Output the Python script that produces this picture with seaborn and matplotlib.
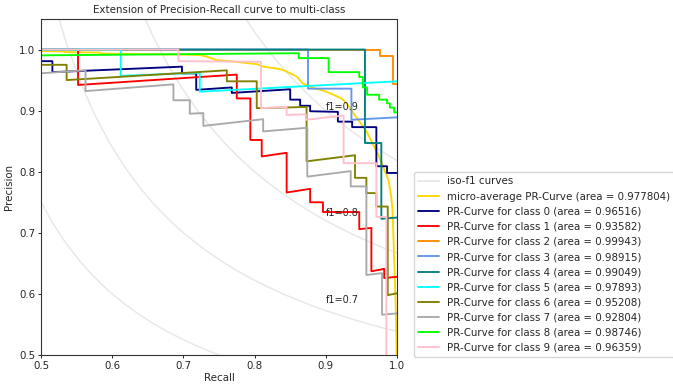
import numpy as np
import matplotlib
matplotlib.use("Agg")
import matplotlib.pyplot as plt
import seaborn as sns
from matplotlib.lines import Line2D

# ---------------- data ----------------
f_scores = [0.6, 0.7, 0.8, 0.9]

micro_recall = [0.45, 0.5, 0.5337, 0.5337, 0.5829, 0.5843, 0.611, 0.6976, 0.7233, 0.7327, 0.7468,
                0.7654, 0.7889, 0.8029, 0.8122, 0.8357, 0.8451, 0.8591, 0.868, 0.8824, 0.8965,
                0.9105, 0.9223, 0.9294, 0.934, 0.9386, 0.9456, 0.9527, 0.9574, 0.9645, 0.9691,
                0.9737, 0.9785, 0.9831, 0.9878, 0.9916, 0.9937, 0.9951, 0.9965, 0.9979, 0.9993, 1.0]
micro_precision = [0.998, 0.9975, 0.9967, 0.9959, 0.9951, 0.9934, 0.993, 0.9918, 0.991, 0.9885, 0.9828,
                   0.9808, 0.9779, 0.9762, 0.9721, 0.968, 0.9639, 0.9557, 0.9443, 0.9369, 0.9328,
                   0.9262, 0.9197, 0.9115, 0.9041, 0.8959, 0.8852, 0.873, 0.8656, 0.8492, 0.8385,
                   0.8279, 0.8143, 0.8, 0.7869, 0.7623, 0.7377, 0.6885, 0.6393, 0.5902, 0.5197, 0.10]
micro_area = "0.977804"

recall_0 = [0.48, 0.516, 0.516, 0.698, 0.698, 0.718, 0.718, 0.768, 0.768, 0.850, 0.850, 0.864, 0.864,
            0.878, 0.878, 0.917, 0.917, 0.937, 0.937, 0.971, 0.971, 0.986, 0.986, 1.0]
precision_0 = [0.981, 0.981, 0.963, 0.972, 0.961, 0.961, 0.934, 0.938, 0.929, 0.935, 0.918, 0.918, 0.908,
               0.908, 0.899, 0.898, 0.882, 0.882, 0.873, 0.873, 0.809, 0.809, 0.798, 0.798]

recall_1 = [0.45, 0.552, 0.552, 0.775, 0.775, 0.794, 0.794, 0.810, 0.810, 0.845, 0.845, 0.878, 0.878,
            0.896, 0.896, 0.947, 0.947, 0.964, 0.964, 0.982, 0.982, 1.0]
precision_1 = [1.0, 1.0, 0.942, 0.959, 0.920, 0.920, 0.852, 0.852, 0.825, 0.831, 0.766, 0.772, 0.750,
               0.750, 0.734, 0.734, 0.706, 0.708, 0.637, 0.641, 0.626, 0.628]

recall_2 = [0.45, 0.976, 0.976, 0.994, 0.994, 1.0]
precision_2 = [1.0, 1.0, 0.989, 0.989, 0.943, 0.943]

recall_3 = [0.45, 0.875, 0.875, 0.936, 0.936, 1.0]
precision_3 = [1.0, 1.0, 0.936, 0.936, 0.885, 0.889]

recall_4 = [0.45, 0.955, 0.955, 0.978, 0.978, 1.0]
precision_4 = [1.0, 1.0, 0.847, 0.847, 0.723, 0.725]

recall_5 = [0.45, 0.612, 0.612, 0.723, 0.723, 1.0]
precision_5 = [1.0, 1.0, 0.957, 0.962, 0.931, 0.948]

recall_6 = [0.45, 0.536, 0.536, 0.761, 0.761, 0.803, 0.803, 0.873, 0.873, 0.941, 0.941, 0.957, 0.957,
            0.971, 0.971, 0.987, 0.987, 1.0]
precision_6 = [0.975, 0.975, 0.950, 0.966, 0.948, 0.948, 0.904, 0.906, 0.817, 0.827, 0.790, 0.790, 0.765,
               0.765, 0.743, 0.743, 0.598, 0.601]

recall_7 = [0.46, 0.5625, 0.5625, 0.686, 0.686, 0.709, 0.709, 0.728, 0.728, 0.812, 0.812, 0.874, 0.874,
            0.935, 0.935, 0.957, 0.957, 0.979, 0.979, 1.0]
precision_7 = [0.958, 0.966, 0.932, 0.943, 0.917, 0.917, 0.895, 0.896, 0.875, 0.886, 0.866, 0.872, 0.792,
               0.801, 0.776, 0.776, 0.631, 0.634, 0.566, 0.568]

recall_8 = [0.45, 0.862, 0.862, 0.904, 0.904, 0.947, 0.947, 0.952, 0.952, 0.958, 0.958, 0.975, 0.975,
            0.986, 0.986, 0.990, 0.990, 0.996, 0.996, 1.0]
precision_8 = [0.990, 0.994, 0.986, 0.986, 0.963, 0.963, 0.955, 0.955, 0.938, 0.938, 0.926, 0.926, 0.918,
               0.918, 0.912, 0.912, 0.905, 0.905, 0.897, 0.897]

recall_9 = [0.45, 0.693, 0.693, 0.809, 0.809, 0.845, 0.845, 0.872, 0.872, 0.925, 0.925, 0.971, 0.971,
            0.985, 0.985]
precision_9 = [1.0, 1.0, 0.981, 0.980, 0.904, 0.906, 0.893, 0.894, 0.885, 0.892, 0.814, 0.814, 0.726,
               0.726, 0.40]

class_areas = ["0.96516", "0.93582", "0.99943", "0.98915", "0.99049",
               "0.97893", "0.95208", "0.92804", "0.98746", "0.96359"]
class_colors = ["navy", "red", "darkorange", "cornflowerblue", "teal",
                "aqua", "olive", "darkgray", "lime", "pink"]
class_recalls = [recall_0, recall_1, recall_2, recall_3, recall_4,
                 recall_5, recall_6, recall_7, recall_8, recall_9]
class_precisions = [precision_0, precision_1, precision_2, precision_3, precision_4,
                    precision_5, precision_6, precision_7, precision_8, precision_9]

# ---------------- plot ----------------
sns.set_style("ticks")
FS = 7.4
plt.rcParams["font.family"] = ["DejaVu Sans"]
plt.rcParams["font.size"] = FS

fig = plt.figure(figsize=(6.73, 3.85), dpi=100)
ax = fig.add_axes([41 / 673, 30 / 385, 356 / 673, 336 / 385])
LW = 1.35

iso_x = np.linspace(0.01, 1, 50)
for f in f_scores:
    iso_y = f * iso_x / (2 * iso_x - f)
    mask = iso_y >= 0
    sns.lineplot(x=iso_x[mask], y=iso_y[mask], color="gray", alpha=0.18, lw=1.1,
                 estimator=None, sort=False, ax=ax)
    ax.annotate("f1={0:0.1f}".format(f), xy=(0.9, iso_y[45] + 0.02), fontsize=FS * 0.95)

sns.lineplot(x=micro_recall, y=micro_precision, color="gold", lw=LW,
             estimator=None, sort=False, ax=ax)
for r, p, c in zip(class_recalls, class_precisions, class_colors):
    sns.lineplot(x=r, y=p, color=c, lw=LW, estimator=None, sort=False, ax=ax)

ax.set_xlim(0.5, 1.0)
ax.set_ylim(0.5, 1.05)
ax.set_xticks([0.5, 0.6, 0.7, 0.8, 0.9, 1.0])
ax.set_yticks([0.5, 0.6, 0.7, 0.8, 0.9, 1.0])
ax.tick_params(labelsize=FS, length=2.5, width=0.7, pad=1.5)
ax.set_xlabel("Recall", fontsize=FS, labelpad=2)
ax.set_ylabel("Precision", fontsize=FS, labelpad=4)
ax.set_title("Extension of Precision-Recall curve to multi-class", fontsize=FS, pad=4)
for s in ax.spines.values():
    s.set_linewidth(0.8)
    s.set_color("0.2")

handles = [Line2D([], [], color="gray", alpha=0.18, lw=LW),
           Line2D([], [], color="gold", lw=LW)]
labels = ["iso-f1 curves", "micro-average PR-Curve (area = {})".format(micro_area)]
for i, (c, a) in enumerate(zip(class_colors, class_areas)):
    handles.append(Line2D([], [], color=c, lw=LW))
    labels.append("PR-Curve for class {0} (area = {1})".format(i, a))

ax.legend(handles, labels, loc="lower left", bbox_to_anchor=((414 - 41) / 356, -0.006),
          borderaxespad=0, fontsize=FS, frameon=True, handlelength=2.0, labelspacing=0.5,
          borderpad=0.4, handletextpad=0.8, fancybox=True, edgecolor="0.8")

fig.savefig("out.png", dpi=100)
